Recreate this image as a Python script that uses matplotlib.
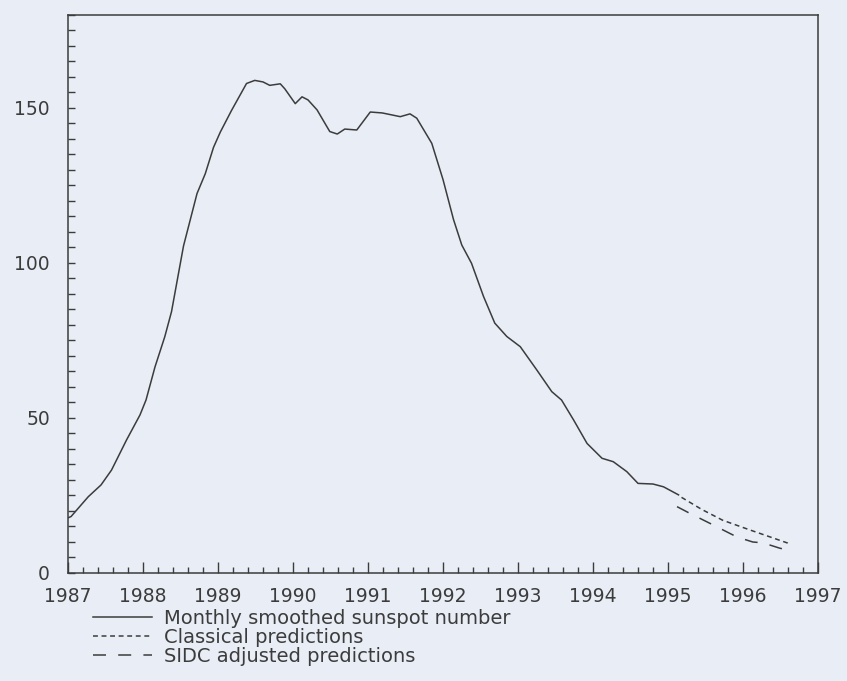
import matplotlib
matplotlib.use("Agg")
import matplotlib.pyplot as plt
from matplotlib.ticker import MultipleLocator

# monthly smoothed sunspot number
obs_year = [1987.00, 1987.04, 1987.27, 1987.44, 1987.58, 1987.78, 1987.96, 1988.04,
            1988.16, 1988.29, 1988.38, 1988.54, 1988.72, 1988.83, 1988.94, 1989.03,
            1989.18, 1989.38, 1989.49, 1989.60, 1989.69, 1989.83, 1989.89, 1990.03,
            1990.12, 1990.20, 1990.32, 1990.49, 1990.59, 1990.69, 1990.85, 1991.03,
            1991.19, 1991.43, 1991.56, 1991.65, 1991.85, 1992.00, 1992.14, 1992.25,
            1992.38, 1992.54, 1992.69, 1992.85, 1993.03, 1993.25, 1993.45, 1993.58,
            1993.74, 1993.92, 1994.12, 1994.27, 1994.45, 1994.60, 1994.80, 1994.94,
            1995.14]
obs_ssn = [17.8, 18.2, 24.6, 28.4, 33.2, 42.9, 51.0, 55.8,
           66.5, 76.2, 84.3, 105.5, 122.4, 128.8, 137.3, 142.2,
           149.2, 157.9, 158.9, 158.4, 157.3, 157.8, 156.2, 151.4,
           153.6, 152.6, 149.4, 142.4, 141.6, 143.2, 142.9, 148.7,
           148.4, 147.2, 148.1, 146.7, 138.6, 126.9, 114.0, 105.8,
           99.9, 89.2, 80.6, 76.3, 73.0, 65.5, 58.5, 55.8,
           49.4, 41.8, 37.0, 35.9, 32.7, 28.9, 28.7, 27.8,
           25.2]

# classical predictions
cls_year = [1995.18, 1995.45, 1995.73, 1996.09, 1996.40, 1996.59, 1996.62]
cls_ssn = [24.4, 20.5, 17.0, 13.9, 11.3, 9.7, 8.7]

# SIDC adjusted predictions
sidc_year = [1995.12, 1995.27, 1995.56, 1995.92, 1996.13, 1996.27, 1996.49, 1996.60]
sidc_ssn = [21.4, 19.5, 16.0, 11.6, 10.0, 9.7, 8.0, 7.4]

labels = ["Monthly smoothed sunspot number",
          "Classical predictions",
          "SIDC adjusted predictions"]

bg = "#e8edf6"
ink = "#3c3c3c"

plt.rcParams["font.family"] = ["DejaVu Sans"]

fig = plt.figure(figsize=(8.47, 6.81), dpi=100, facecolor=bg)
ax = fig.add_axes([0.0803, 0.1586, 0.8855, 0.8194], facecolor=bg)

l1, = ax.plot(obs_year, obs_ssn, color=ink, lw=1.1, solid_joinstyle="round",
              label=labels[0])
l2, = ax.plot(cls_year, cls_ssn, color=ink, lw=1.1, dashes=(3.2, 2.4), label=labels[1])
l3, = ax.plot(sidc_year, sidc_ssn, color=ink, lw=1.1, dashes=(8.5, 8), label=labels[2])

ax.set_xlim(1987, 1997)
ax.set_ylim(0, 180)
ax.xaxis.set_major_locator(MultipleLocator(1))
ax.xaxis.set_minor_locator(MultipleLocator(0.2))
ax.yaxis.set_major_locator(MultipleLocator(50))
ax.yaxis.set_minor_locator(MultipleLocator(5))

for s in ax.spines.values():
    s.set_color(ink)
    s.set_linewidth(1.1)

ax.tick_params(axis="x", which="major", direction="in", length=8, width=1.0,
               color=ink, labelcolor=ink, labelsize=13.5, pad=10, top=False)
ax.tick_params(axis="x", which="minor", direction="in", length=4.5, width=1.0,
               color=ink, top=False)
ax.tick_params(axis="y", which="both", direction="in", length=5, width=1.0,
               color=ink, labelcolor=ink, labelsize=13.5, pad=13, right=False)

leg = fig.legend(handles=[l1, l2, l3], loc="upper left",
                 bbox_to_anchor=(0.11, 0.1053), frameon=False,
                 fontsize=14, handlelength=3.0, handletextpad=0.65,
                 labelspacing=0.0, borderpad=0, borderaxespad=0)
for t in leg.get_texts():
    t.set_color(ink)

fig.savefig("out.png", dpi=100, facecolor=bg)
